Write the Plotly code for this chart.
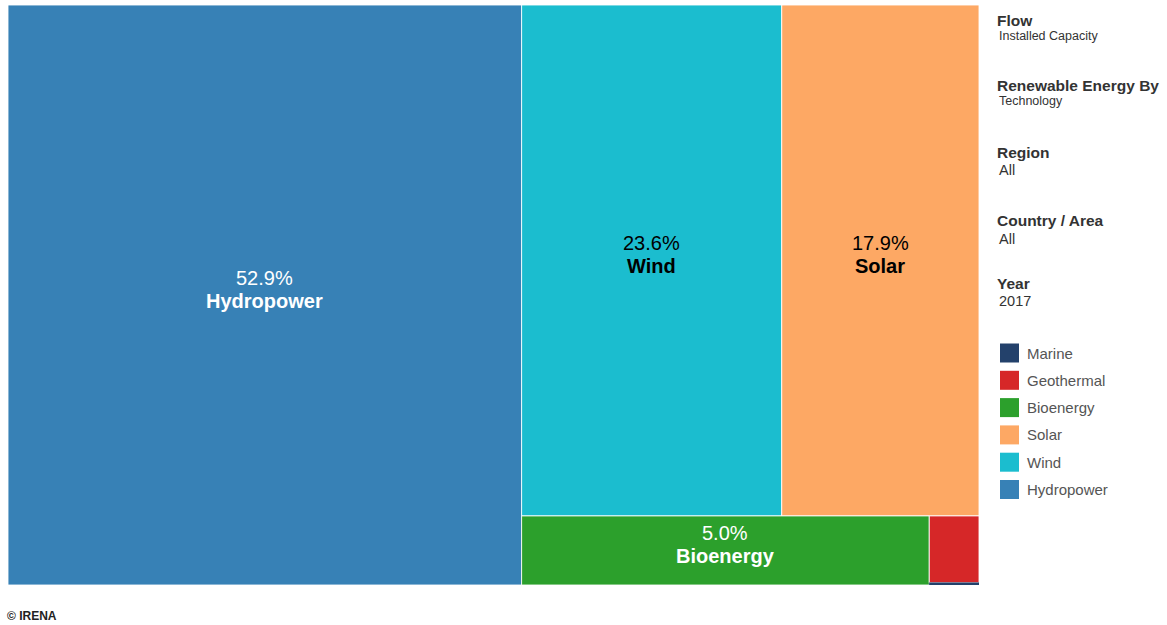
import plotly.graph_objects as go

# ---- data ----
technologies = ["Hydropower", "Wind", "Solar", "Bioenergy", "Geothermal", "Marine"]
shares = [52.9, 23.6, 17.9, 5.0, 0.59, 0.02]
colors = ["#3781b6", "#1bbdcf", "#fda864", "#2ca02c", "#d62728", "#23416b"]
label_colors = ["white", "black", "black", "white", None, None]
legend_order = ["Marine", "Geothermal", "Bioenergy", "Solar", "Wind", "Hydropower"]
filter_titles = ["Flow", "Renewable Energy By", "Region", "Country / Area", "Year"]
filter_values = ["Installed Capacity", "Technology", "All", "All", "2017"]
credit = "© IRENA"

# tiling structure (indices into technologies): h = left->right, v = top->bottom
structure = ("h", [0, ("v", [("h", [1, 2]), ("h", [3, ("v", [4, 5])])])])

W, H = 1167, 625
L, R, T, B = 8, 188, 5, 40
PW, PH = W - L - R, H - T - B
font = "Liberation Sans, Arial"


def total(node):
    if isinstance(node, int):
        return shares[node]
    return sum(total(c) for c in node[1])


rects = {}


def tile(node, x0, x1, y0, y1):
    if isinstance(node, int):
        rects[node] = (x0, x1, y0, y1)
        return
    kind, children = node
    tot = total(node)
    if kind == "h":
        x = x0
        for c in children:
            w = (x1 - x0) * total(c) / tot
            tile(c, x, x + w, y0, y1)
            x += w
    else:
        y = y1
        for c in children:
            h = (y1 - y0) * total(c) / tot
            tile(c, x0, x1, y - h, y)
            y -= h


tile(structure, 0.0, 1.0, 0.0, 1.0)

fig = go.Figure()
for i, name in enumerate(technologies):
    x0, x1, y0, y1 = rects[i]
    small = (y1 - y0) * PH < 4
    fig.add_trace(go.Scatter(
        x=[x0, x1, x1, x0, x0], y=[y0, y0, y1, y1, y0],
        fill="toself", fillcolor=colors[i], mode="lines",
        line=dict(color=colors[i] if small else "rgba(255,255,255,0.85)", width=0.5 if small else 1),
        name=name, hoverinfo="text", text=f"{name}: {shares[i]:.1f}%", showlegend=False))
    if label_colors[i]:
        cx, cy = (x0 + x1) / 2, (y0 + y1) / 2
        fig.add_annotation(x=cx, y=cy, xref="x", yref="y", text=f"{shares[i]:.1f}%",
                           showarrow=False, yshift=17,
                           font=dict(family=font, size=20, color=label_colors[i]))
        fig.add_annotation(x=cx, y=cy, xref="x", yref="y", text=f"<b>{name}</b>",
                           showarrow=False, yshift=-6,
                           font=dict(family=font, size=20, color=label_colors[i]))


def px(x):
    return (x - L) / PW


def py(y):
    return (H - B - y) / PH


# filter panel
title_y = [20, 85, 152, 221, 283]
for t, v, ty in zip(filter_titles, filter_values, title_y):
    fig.add_annotation(x=px(995), y=py(ty), xref="paper", yref="paper", text=f"<b>{t}</b>",
                       showarrow=False, xanchor="left", yanchor="middle",
                       font=dict(family=font, size=15.5, color="#333333"))
    small = v in ("Installed Capacity", "Technology")
    fig.add_annotation(x=px(997), y=py(ty + (16 if small else 18)), xref="paper", yref="paper", text=v,
                       showarrow=False, xanchor="left", yanchor="middle",
                       font=dict(family=font, size=12.5 if small else 14.5, color="#333333"))

# legend
for k, name in enumerate(legend_order):
    cy = 353 + k * 27.3
    c = colors[technologies.index(name)]
    fig.add_shape(type="rect", xref="paper", yref="paper",
                  x0=px(1000), x1=px(1019), y0=py(cy - 9.5), y1=py(cy + 9.5),
                  fillcolor=c, line=dict(width=0))
    fig.add_annotation(x=px(1025), y=py(cy), xref="paper", yref="paper", text=name,
                       showarrow=False, xanchor="left", yanchor="middle",
                       font=dict(family=font, size=15, color="#555555"))

fig.add_annotation(x=px(5), y=py(616), xref="paper", yref="paper", text=f"<b>{credit}</b>",
                   showarrow=False, xanchor="left", yanchor="middle",
                   font=dict(family=font, size=12, color="#222222"))

fig.update_xaxes(range=[0, 1], visible=False, fixedrange=True)
fig.update_yaxes(range=[0, 1], visible=False, fixedrange=True)
fig.update_layout(width=W, height=H, margin=dict(l=L, r=R, t=T, b=B),
                  plot_bgcolor="white", paper_bgcolor="white", showlegend=False)
fig.write_html("out.html")
